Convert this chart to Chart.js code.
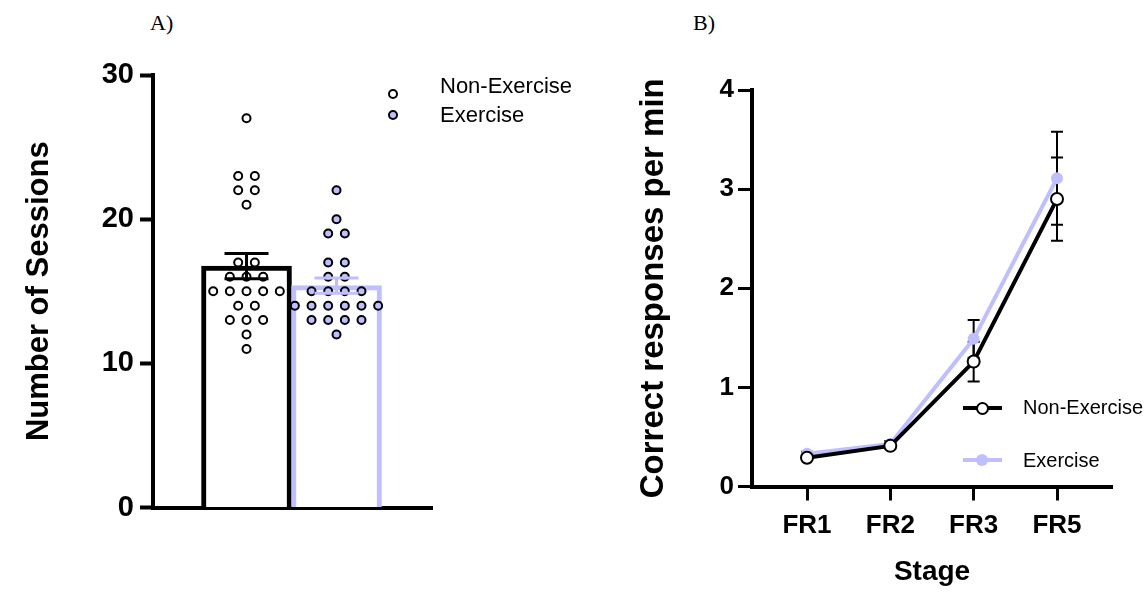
<!DOCTYPE html>
<html lang="en">

<head>
    <meta charset="UTF-8">
    <meta name="viewport" content="width=device-width, initial-scale=1.0">
    <title>Sessions and response rate</title>

    <script src="https://cdn.jsdelivr.net/npm/chart.js"></script>

    <style>
        body {
            margin: 0;
            background: #fff;
            font-family: "Liberation Sans", Arial, sans-serif;
        }

        #wrap {
            position: relative;
            width: 1144px;
            height: 592px;
            overflow: hidden;
        }

        .panel {
            position: absolute;
            top: 0;
            height: 592px;
        }

        #panelA {
            left: 0;
            width: 600px;
        }

        #panelB {
            left: 590px;
            width: 554px;
        }

        .tag {
            position: absolute;
            top: 12px;
            font-family: "Liberation Serif", "Times New Roman", serif;
            font-size: 22px;
            line-height: 1;
        }

        .leg-text {
            position: absolute;
            line-height: 1;
            white-space: nowrap;
            color: #000;
        }

        .dot {
            position: absolute;
            box-sizing: border-box;
            border-radius: 50%;
        }

        .bar-line {
            position: absolute;
            height: 4px;
        }
    </style>
</head>

<body>
    <div id="wrap">
        <div class="tag" style="left:150px">A)</div>
        <div class="tag" style="left:693px">B)</div>

        <div class="panel" id="panelA"><canvas id="graph_sessions"></canvas></div>
        <div class="panel" id="panelB"><canvas id="graph_rate"></canvas></div>

        <!-- legend A -->
        <div class="dot" style="left:388px;top:89px;width:10px;height:10px;border:2px solid #000;background:#fff"></div>
        <div class="leg-text" style="left:440px;top:75px;font-size:22px">Non-Exercise</div>
        <div class="dot" style="left:388px;top:110px;width:10px;height:10px;border:2px solid #000;background:#bfbfff"></div>
        <div class="leg-text" style="left:440px;top:104px;font-size:22px">Exercise</div>

        <!-- legend B -->
        <div class="bar-line" style="left:963px;top:406px;width:39px;background:#000"></div>
        <div class="dot" style="left:976px;top:402px;width:13px;height:13px;border:2px solid #000;background:#fff"></div>
        <div class="leg-text" style="left:1023px;top:397px;font-size:20px">Non-Exercise</div>
        <div class="bar-line" style="left:963px;top:458px;width:39px;background:#bfbfff"></div>
        <div class="dot" style="left:976px;top:454px;width:12px;height:12px;background:#bfbfff"></div>
        <div class="leg-text" style="left:1023px;top:450px;font-size:20px">Exercise</div>
    </div>
</body>

</html>

<script>
    // sessions needed per animal
    const nonExerciseSessions = [27, 23, 23, 22, 22, 21, 17, 17, 16, 16, 16, 15, 15, 15, 15, 15, 14, 14, 13, 13, 13, 12, 11];
    const exerciseSessions = [22, 20, 19, 19, 17, 17, 16, 16, 15, 15, 15, 15, 14, 14, 14, 14, 14, 14, 13, 13, 13, 13, 12];
    const sessionTicks = [0, 10, 20, 30];

    // correct responses per min, mean and SEM per stage
    const stageLabels = ['FR1', 'FR2', 'FR3', 'FR5'];
    const nonExerciseRate = [0.29, 0.41, 1.26, 2.90];
    const nonExerciseSem = [0.02, 0.03, 0.20, 0.42];
    const exerciseRate = [0.33, 0.43, 1.49, 3.11];
    const exerciseSem = [0.02, 0.03, 0.19, 0.47];
    const rateTicks = [0, 1, 2, 3, 4];

    const LAVENDER = '#bfbfff';
    const FONT = '"Liberation Sans", Arial, sans-serif';
    const DOT_GAP = 0.185;

    function media(valores) {
        return valores.reduce((a, b) => a + b, 0) / valores.length;
    }

    function erroPadrao(valores) {
        const m = media(valores);
        const soma = valores.reduce((a, b) => a + (b - m) * (b - m), 0);
        return Math.sqrt(soma / (valores.length - 1)) / Math.sqrt(valores.length);
    }

    // spread equal values side by side around the bar centre
    function swarm(valores, centro) {
        const linhas = {};
        valores.forEach(v => { linhas[v] = (linhas[v] || 0) + 1; });
        const pontos = [];
        Object.keys(linhas).forEach(k => {
            const n = linhas[k];
            for (let i = 0; i < n; i++) {
                pontos.push({ x: centro + (i - (n - 1) / 2) * DOT_GAP, y: Number(k) });
            }
        });
        return pontos;
    }

    function drawErrorBars(chart) {
        const ctx = chart.ctx;
        const yScale = chart.scales.y;
        chart.data.datasets.forEach((ds, i) => {
            if (!ds.sem) return;
            const meta = chart.getDatasetMeta(i);
            meta.data.forEach((el, j) => {
                const v = ds.data[j].y;
                const top = yScale.getPixelForValue(v + ds.sem[j]);
                const bottom = yScale.getPixelForValue(v - ds.sem[j]);
                const cor = Array.isArray(ds.errorColor) ? ds.errorColor[j] : ds.errorColor;
                ctx.save();
                ctx.strokeStyle = cor;
                ctx.lineWidth = ds.errorWidth;
                ctx.beginPath();
                ctx.moveTo(el.x, top);
                ctx.lineTo(el.x, bottom);
                ctx.moveTo(el.x - ds.capHalf, top);
                ctx.lineTo(el.x + ds.capHalf, top);
                ctx.moveTo(el.x - ds.capHalf, bottom);
                ctx.lineTo(el.x + ds.capHalf, bottom);
                ctx.stroke();
                ctx.restore();
            });
        });
    }

    function mostrarGraficoSessoes() {
        const config = {
            type: 'bar',
            data: {
                datasets: [{
                    type: 'scatter',
                    label: 'Non-Exercise',
                    data: swarm(nonExerciseSessions, 0),
                    pointRadius: 4,
                    borderWidth: 2,
                    borderColor: '#000',
                    backgroundColor: '#fff',
                    order: 1
                }, {
                    type: 'scatter',
                    label: 'Exercise',
                    data: swarm(exerciseSessions, 1),
                    pointRadius: 4,
                    borderWidth: 2,
                    borderColor: '#000',
                    backgroundColor: LAVENDER,
                    order: 1
                }, {
                    type: 'bar',
                    label: 'Mean',
                    data: [
                        { x: 0, y: media(nonExerciseSessions) },
                        { x: 1, y: media(exerciseSessions) }
                    ],
                    sem: [erroPadrao(nonExerciseSessions), erroPadrao(exerciseSessions)],
                    errorColor: ['#000', LAVENDER],
                    errorWidth: 3,
                    capHalf: 22,
                    backgroundColor: '#fff',
                    borderColor: ['#000', LAVENDER],
                    borderWidth: 5,
                    barThickness: 90,
                    order: 2
                }]
            },
            options: {
                responsive: true,
                maintainAspectRatio: false,
                animation: false,
                events: [],
                layout: {
                    autoPadding: false,
                    padding: { left: 0, top: 75, right: 168, bottom: 74.5 }
                },
                plugins: {
                    legend: { display: false },
                    tooltip: { enabled: false }
                },
                scales: {
                    x: {
                        type: 'linear',
                        offset: false,
                        min: -1.039,
                        max: 2.061,
                        ticks: { display: false },
                        grid: { display: false },
                        border: { color: '#000', width: 4 },
                        afterFit: s => { s.height = 10; }
                    },
                    y: {
                        min: 0,
                        max: 30,
                        afterBuildTicks: s => { s.ticks = sessionTicks.map(v => ({ value: v })); },
                        ticks: {
                            color: '#000',
                            padding: 6,
                            font: { family: FONT, size: 29, weight: 'bold' }
                        },
                        grid: { drawOnChartArea: false, tickLength: 13, tickWidth: 4, tickColor: '#000' },
                        border: { color: '#000', width: 4 },
                        title: {
                            display: true,
                            text: 'Number of Sessions',
                            color: '#000',
                            font: { family: FONT, size: 31, weight: 'bold' },
                            padding: { top: 21, bottom: 0 }
                        },
                        afterFit: s => { s.width = 153; }
                    }
                }
            },
            plugins: [{ id: 'errosA', afterDatasetsDraw: drawErrorBars }]
        };

        new Chart(document.getElementById('graph_sessions'), config);
    }

    function mostrarGraficoRespostas() {
        const config = {
            type: 'line',
            data: {
                datasets: [{
                    label: 'Non-Exercise',
                    data: stageLabels.map((s, i) => ({ x: i, y: nonExerciseRate[i] })),
                    sem: nonExerciseSem,
                    errorColor: '#000',
                    errorWidth: 2,
                    capHalf: 6,
                    borderColor: '#000',
                    borderWidth: 4,
                    tension: 0,
                    pointRadius: 6,
                    pointBorderWidth: 2,
                    pointBackgroundColor: '#fff',
                    pointBorderColor: '#000',
                    order: 0
                }, {
                    label: 'Exercise',
                    data: stageLabels.map((s, i) => ({ x: i, y: exerciseRate[i] })),
                    sem: exerciseSem,
                    errorColor: '#000',
                    errorWidth: 2,
                    capHalf: 6,
                    borderColor: LAVENDER,
                    borderWidth: 4,
                    tension: 0,
                    pointRadius: 6,
                    pointBorderWidth: 0,
                    pointBackgroundColor: LAVENDER,
                    pointBorderColor: LAVENDER,
                    order: 1
                }]
            },
            options: {
                responsive: true,
                maintainAspectRatio: false,
                animation: false,
                events: [],
                layout: {
                    autoPadding: false,
                    padding: { left: 0, top: 90, right: 32, bottom: 0 }
                },
                plugins: {
                    legend: { display: false },
                    tooltip: { enabled: false }
                },
                scales: {
                    x: {
                        type: 'linear',
                        offset: false,
                        min: -0.66,
                        max: 3.66,
                        afterBuildTicks: s => { s.ticks = stageLabels.map((_, i) => ({ value: i })); },
                        ticks: {
                            callback: v => stageLabels[v],
                            color: '#000',
                            padding: 10,
                            autoSkip: false,
                            maxRotation: 0,
                            font: { family: FONT, size: 26, weight: 'bold' }
                        },
                        grid: { drawOnChartArea: false, tickLength: 14, tickWidth: 3, tickColor: '#000' },
                        border: { color: '#000', width: 4 },
                        title: {
                            display: true,
                            text: 'Stage',
                            color: '#000',
                            font: { family: FONT, size: 28, weight: 'bold' },
                            padding: { top: 0, bottom: 3 }
                        },
                        afterFit: s => { s.height = 105.5; }
                    },
                    y: {
                        min: 0,
                        max: 4,
                        afterBuildTicks: s => { s.ticks = rateTicks.map(v => ({ value: v })); },
                        ticks: {
                            color: '#000',
                            padding: 4,
                            font: { family: FONT, size: 26, weight: 'bold' }
                        },
                        grid: { drawOnChartArea: false, tickLength: 14, tickWidth: 3, tickColor: '#000' },
                        border: { color: '#000', width: 4 },
                        title: {
                            display: true,
                            text: 'Correct responses per min',
                            color: '#000',
                            font: { family: FONT, size: 33, weight: 'bold' },
                            padding: { top: 44, bottom: 0 }
                        },
                        afterFit: s => { s.width = 162; }
                    }
                }
            },
            plugins: [{ id: 'errosB', beforeDatasetsDraw: drawErrorBars }]
        };

        new Chart(document.getElementById('graph_rate'), config);
    }

    mostrarGraficoSessoes();
    mostrarGraficoRespostas();
</script>
